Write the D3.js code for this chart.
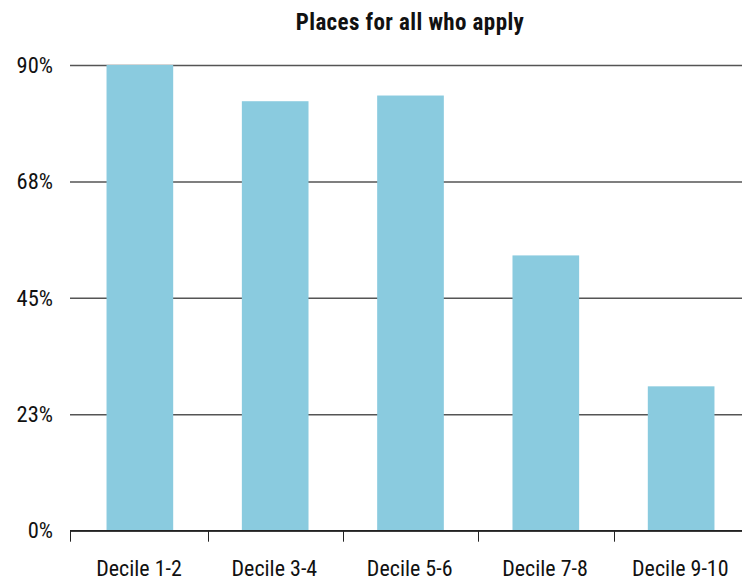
<!DOCTYPE html>
<html>
<head>
<meta charset="utf-8">
<script src="https://cdn.jsdelivr.net/npm/d3@7"></script>
<style>
  html, body { margin: 0; padding: 0; background: #fff; }
  svg text { font-family: "Liberation Sans Narrow", "Roboto Condensed", "DejaVu Sans Condensed", "Roboto", sans-serif; fill: #111; }
</style>
</head>
<body>
<svg id="chart" width="742" height="581"></svg>
<script>
// Share of schools with places for all who apply, by income decile
const title = "Places for all who apply";
const categories = ["Decile 1-2", "Decile 3-4", "Decile 5-6", "Decile 7-8", "Decile 9-10"];
const values = [90, 83, 84.1, 53.2, 27.9];
const yTicks = [0, 22.5, 45, 67.5, 90];

const svg = d3.select("#chart");
const plotLeft = 70, plotTop = 65, plotBottom = 530.7, plotRight = 742;

const x = d3.scaleBand().domain(categories).range([72.4, 749]).padding(0);
const y = d3.scaleLinear().domain([0, 90]).range([plotBottom, plotTop]);

// title
svg.append("text")
  .attr("x", 410).attr("y", 29.5)
  .attr("text-anchor", "middle")
  .style("font-size", "23px").style("font-weight", "bold")
  .style("letter-spacing", "0.4px")
  .text(title);

// horizontal gridlines + y labels
const yAxis = d3.axisLeft(y).tickValues(yTicks)
  .tickFormat(d => Math.round(d) + "%")
  .tickSize(-(plotRight - plotLeft)).tickPadding(17);
const gy = svg.append("g").attr("transform", `translate(${plotLeft},0)`).call(yAxis);
gy.select(".domain").remove();
gy.selectAll(".tick line").attr("stroke", "#555").attr("stroke-width", 1.5);
gy.selectAll(".tick text").style("font-size", "22.5px").attr("fill", "#111");

// bars: half the band, centred
const bw = x.bandwidth();
svg.append("g").selectAll("rect").data(values).join("rect")
  .attr("x", (d, i) => x(categories[i]) + bw * 0.25 + 0.3)
  .attr("width", bw * 0.5 - 1)
  .attr("y", d => y(d))
  .attr("height", d => y(0) - y(d))
  .attr("fill", "#8ACBDF");

// x axis: baseline, ticks at band edges, labels centred under bars
const gx = svg.append("g");
gx.append("line")
  .attr("x1", plotLeft).attr("x2", plotRight)
  .attr("y1", plotBottom).attr("y2", plotBottom)
  .attr("stroke", "#222").attr("stroke-width", 1.5);
const edges = [plotLeft].concat(categories.slice(1).map(c => x(c)));
gx.selectAll("line.tick").data(edges).join("line")
  .attr("class", "tick")
  .attr("x1", d => Math.round(d) + 0.5).attr("x2", d => Math.round(d) + 0.5)
  .attr("y1", plotBottom).attr("y2", plotBottom + 11)
  .attr("stroke", "#222").attr("stroke-width", 1);
gx.selectAll("text").data(categories).join("text")
  .attr("x", d => x(d) + bw / 2 - 1)
  .attr("y", 576)
  .attr("text-anchor", "middle")
  .style("font-size", "22px")
  .text(d => d);
</script>
</body>
</html>
